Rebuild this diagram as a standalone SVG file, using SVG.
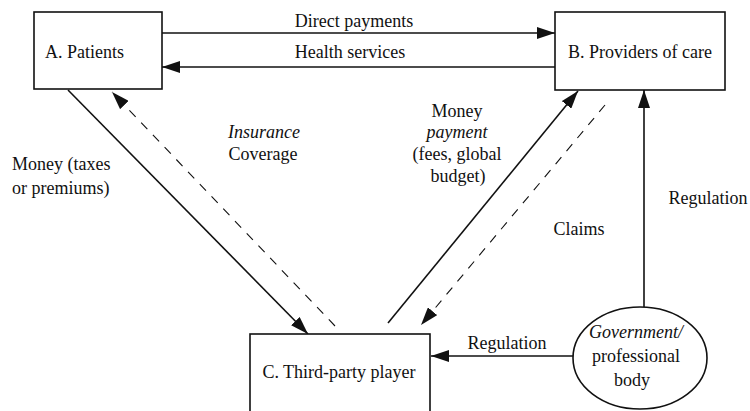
<svg xmlns="http://www.w3.org/2000/svg" width="750" height="411" viewBox="0 0 750 411">
<style>
text{font-family:"Liberation Serif","Times New Roman",serif;font-size:18px;fill:#111}
.box{fill:#fff;stroke:#111;stroke-width:1.6}
.solid{fill:none;stroke:#111;stroke-width:1.6}
.dash{fill:none;stroke:#111;stroke-width:1.1;stroke-dasharray:9 8}
.c{text-anchor:middle}
</style>
<defs>
<marker id="ah" markerUnits="userSpaceOnUse" markerWidth="18" markerHeight="12" refX="18" refY="6" orient="auto">
<path d="M0,0 L18,6 L0,12 z" fill="#111"/>
</marker>
</defs>
<rect width="750" height="411" fill="#fff"/>
<g id="connectors">
<line class="solid" x1="162" y1="33" x2="555" y2="33" marker-end="url(#ah)"/>
<line class="solid" x1="555" y1="67" x2="162" y2="67" marker-end="url(#ah)"/>
<line class="solid" x1="68" y1="90" x2="308" y2="334" marker-end="url(#ah)"/>
<line class="dash" x1="335" y1="326" x2="112" y2="92" marker-end="url(#ah)"/>
<line class="solid" x1="388" y1="323" x2="578" y2="91" marker-end="url(#ah)"/>
<line class="dash" x1="605" y1="105" x2="421" y2="325" marker-end="url(#ah)"/>
<line class="solid" x1="644" y1="307" x2="644" y2="90" marker-end="url(#ah)"/>
<line class="solid" x1="573" y1="356" x2="431" y2="356" marker-end="url(#ah)"/>
<text x="354" y="27" class="c">Direct payments</text>
<text x="350" y="58" class="c">Health services</text>
<text x="12" y="170">Money (taxes</text>
<text x="12" y="194">or premiums)</text>
<text x="264" y="138" class="c" font-style="italic">Insurance</text>
<text x="263" y="160" class="c">Coverage</text>
<text x="457" y="117" class="c">Money</text>
<text x="457" y="138" class="c" font-style="italic">payment</text>
<text x="457" y="160" class="c">(fees, global</text>
<text x="458" y="182" class="c">budget)</text>
<text x="579" y="235" class="c">Claims</text>
<text x="708" y="204" class="c">Regulation</text>
<text x="507" y="349" class="c">Regulation</text>
</g>
<g id="nodeA">
<rect class="box" x="34" y="12" width="128" height="77"/>
<text x="45" y="58">A. Patients</text>
</g>
<g id="nodeB">
<rect class="box" x="555" y="12" width="170" height="78"/>
<text x="640" y="58" class="c">B. Providers of care</text>
</g>
<g id="nodeC">
<rect class="box" x="250" y="334" width="180" height="90"/>
<text x="339" y="378" class="c">C. Third-party player</text>
</g>
<g id="nodeGov">
<ellipse class="box" cx="640" cy="358" rx="67" ry="51"/>
<text x="636" y="338" class="c" font-style="italic">Government/</text>
<text x="636" y="362" class="c">professional</text>
<text x="632" y="386" class="c">body</text>
</g>
</svg>
